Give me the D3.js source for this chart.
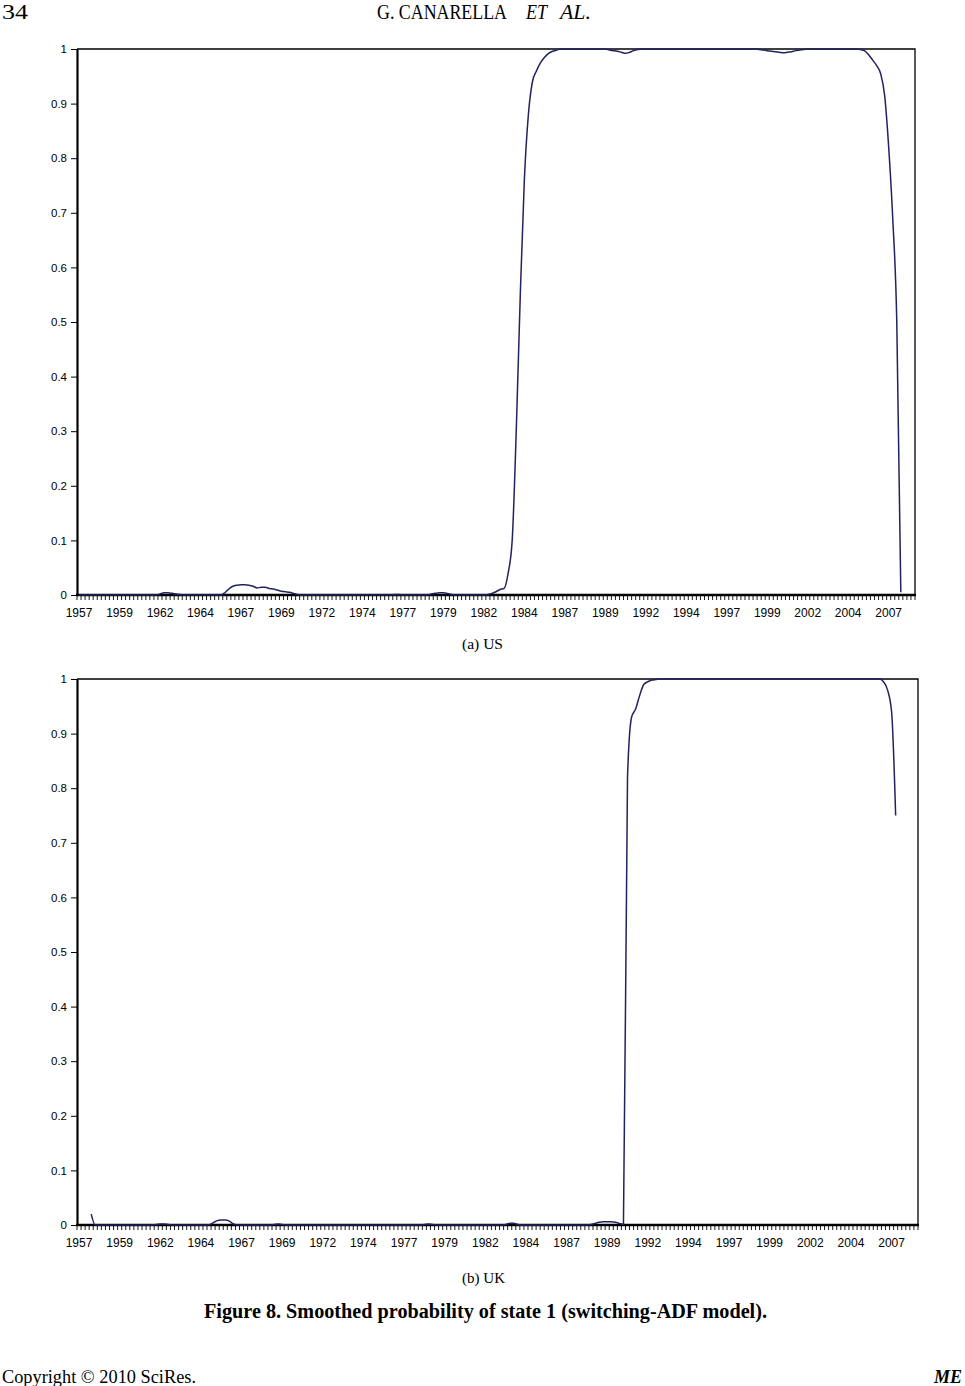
<!DOCTYPE html>
<html><head><meta charset="utf-8">
<script src="https://cdn.jsdelivr.net/npm/d3@7"></script>
<style>body{margin:0;background:#fff}svg{display:block}</style>
</head><body>
<svg id="c" width="965" height="1386"></svg>
<script>
// ---------- DATA ----------
const startYear = 1957;
const nQuarters = 207; // 1957Q1 .. 2008Q3
const categories = [];
for (let i = 0; i < nQuarters; i++) categories.push(`${startYear + Math.floor(i / 4)}Q${(i % 4) + 1}`);

const tickCategories = ["1957Q1","1959Q3","1962Q1","1964Q3","1967Q1","1969Q3","1972Q1","1974Q3","1977Q1","1979Q3","1982Q1","1984Q3","1987Q1","1989Q3","1992Q1","1994Q3","1997Q1","1999Q3","2002Q1","2004Q3","2007Q1"];
const tickLabels = ["1957","1959","1962","1964","1967","1969","1972","1974","1977","1979","1982","1984","1987","1989","1992","1994","1997","1999","2002","2004","2007"];
const yTicks = [0,0.1,0.2,0.3,0.4,0.5,0.6,0.7,0.8,0.9,1];
const yTickLabels = ["0","0.1","0.2","0.3","0.4","0.5","0.6","0.7","0.8","0.9","1"];

// US smoothed probability (quarterly)
const usValues = [
0,0,0,0,0,0,0,0,0,0, 0,0,0,0,0,0,0,0,0,0,
0.002,0.004,0.004,0.003,0.002,0.001,0,0,0,0,
0,0,0,0,0,0,0.004,0.011,0.016,0.018,
0.019,0.019,0.018,0.016,0.013,0.014,0.014,0.012,0.011,0.009,
0.007,0.006,0.005,0.003,0.001,0,0,0,0,0,
0,0,0,0,0,0,0,0,0,0, 0,0,0,0,0,0,0,0,0.001,0.001,
0,0,0,0,0,0,0,0.002,0.003,0.004,
0.004,0.003,0.001,0,0,0,0,0,0,0,
0,0.001,0.003,0.006,0.010,0.012,0.040,0.100,0.300,0.550,
0.760,0.880,0.940,0.960,0.975,0.985,0.992,0.996,0.998,1,
1,1,1,1,1,1,1,1,1,1,
1,0.998,0.997,0.996,0.994,0.992,0.994,0.997,0.999,1,
1,1,1,1,1,1,1,1,1,1, 1,1,1,1,1,1,1,1,1,1,
1,1,1,1,1,1,1,1,0.999,0.998,
0.997,0.996,0.995,0.994,0.993,0.994,0.995,0.997,0.998,0.999,
1,1,1,1,1,1,1,1,1,1,
1,1,1,0.999,0.997,0.990,0.980,0.970,0.955,0.915,
0.820,0.690,0.500,0.005,null,null,null
];

// UK smoothed probability (quarterly)
const ukValues = [
null,null,null,0.020,0,0,0,0,0,0,
0,0,0,0,0,0,0,0,0,0.001,
0.002,0.002,0.001,0,0,0,0,0,0,0,
0,0,0,0.004,0.008,0.009,0.009,0.007,0.002,0,
0,0,0,0,0,0,0,0,0.001,0.002,
0.001,0,0,0,0,0,0,0,0,0,
0,0,0,0,0,0,0,0,0,0, 0,0,0,0,0,0,0,0,0,0,
0,0,0,0,0,0.001,0.002,0.001,0,0,
0,0,0,0,0,0,0,0,0,0, 0,0,0,0,0,0.001,0.003,0.003,0.001,0,
0,0,0,0,0,0,0,0,0,0, 0,0,0,0,0,0,0.001,0.003,0.005,0.006,
0.006,0.006,0.005,0.003,0.001,0.820,0.930,0.945,0.970,0.990,
0.995,0.998,0.999,1,1,1,1,1,1,1,
1,1,1,1,1,1,1,1,1,1, 1,1,1,1,1,1,1,1,1,1,
1,1,1,1,1,1,1,1,1,1, 1,1,1,1,1,1,1,1,1,1,
1,1,1,1,1,1,1,1,0.995,0.980,
0.940,0.750,null,null,null,null,null
];

// ---------- DRAW ----------
const svg = d3.select("#c");
const lineColor = "#22235e";
const serif = "'Liberation Serif','Times New Roman',serif";
const sans = "'Liberation Sans',Arial,sans-serif";

function panel(values, box) {
  const g = svg.append("g");
  const x = d3.scaleBand().domain(categories).range([box.left, box.right]).padding(0);
  const y = d3.scaleLinear().domain([0, 1]).range([box.bottom, box.top]);

  // plot border (top/right)
  g.append("path")
    .attr("d", `M${box.left},${y(1)}H${box.right}V${y(0)}`)
    .attr("fill", "none").attr("stroke", "#000").attr("stroke-width", 1.3);

  // y axis
  const yAxis = d3.axisLeft(y).tickValues(yTicks).tickSize(6).tickSizeOuter(0)
    .tickFormat((d, i) => yTickLabels[i]);
  const ya = g.append("g").attr("transform", `translate(${box.left},0)`).call(yAxis);
  ya.select(".domain").attr("stroke", "#000").attr("stroke-width", 2.2);
  ya.selectAll(".tick line").attr("stroke", "#000").attr("stroke-width", 1);
  ya.selectAll(".tick text").attr("font-family", sans).attr("font-size", 11.5).attr("fill", "#000").attr("x", -10);

  // x axis: minor ticks at every category boundary
  const edges = categories.map(c => x(c)).concat([box.right]);
  g.append("g").selectAll("line").data(edges).join("line")
    .attr("x1", d => d).attr("x2", d => d)
    .attr("y1", box.bottom).attr("y2", box.bottom + 5)
    .attr("stroke", "#000").attr("stroke-width", 0.9);
  g.append("line").attr("x1", box.left - 1).attr("x2", box.right + 1)
    .attr("y1", box.bottom).attr("y2", box.bottom)
    .attr("stroke", "#000").attr("stroke-width", 2.4);
  g.append("g").selectAll("text").data(tickCategories).join("text")
    .attr("x", d => x(d) + x.bandwidth() / 2)
    .attr("y", box.bottom + 22)
    .attr("text-anchor", "middle")
    .attr("font-family", sans).attr("font-size", 12).attr("fill", "#000")
    .text((d, i) => tickLabels[i]);

  // series line
  const line = d3.line()
    .defined(d => d !== null)
    .x((d, i) => x(categories[i]) + x.bandwidth() / 2)
    .y(d => y(d))
    .curve(d3.curveMonotoneX);
  g.append("path").datum(values)
    .attr("d", line)
    .attr("fill", "none").attr("stroke", lineColor).attr("stroke-width", 1.5)
    .attr("stroke-linejoin", "round");
}

panel(usValues, { left: 77, right: 915, top: 49, bottom: 595 });
panel(ukValues, { left: 77, right: 918, top: 679, bottom: 1225 });

function stext(str, x, y, size, opts = {}) {
  const t = svg.append("text").attr("x", x).attr("y", y)
    .attr("font-family", serif).attr("font-size", size).attr("fill", "#000")
    .attr("text-anchor", opts.anchor || "start")
    .text(str);
  if (opts.bold) t.attr("font-weight", "bold");
  if (opts.italic) t.attr("font-style", "italic");
  if (opts.len) t.attr("textLength", opts.len).attr("lengthAdjust", "spacingAndGlyphs");
  return t;
}

// header
stext("34", 2, 19, 20, { len: 26 });
stext("G. CANARELLA", 377, 19, 20, { len: 130 });
stext("ET", 526, 19, 20, { italic: true, len: 21 });
stext("AL.", 560, 19, 20, { italic: true, len: 31 });

// panel captions
stext("(a) US", 462, 649, 15, { len: 41 });
stext("(b) UK", 462, 1283, 15, { len: 43 });

// figure caption
stext("Figure 8. Smoothed probability of state 1 (switching-ADF model).", 204, 1318, 20, { bold: true, len: 563 });

// footer
stext("Copyright \u00A9 2010 SciRes.", 2, 1383, 18, { len: 194 });
stext("ME", 962, 1383, 18, { bold: true, italic: true, anchor: "end" });
</script>
</body></html>
